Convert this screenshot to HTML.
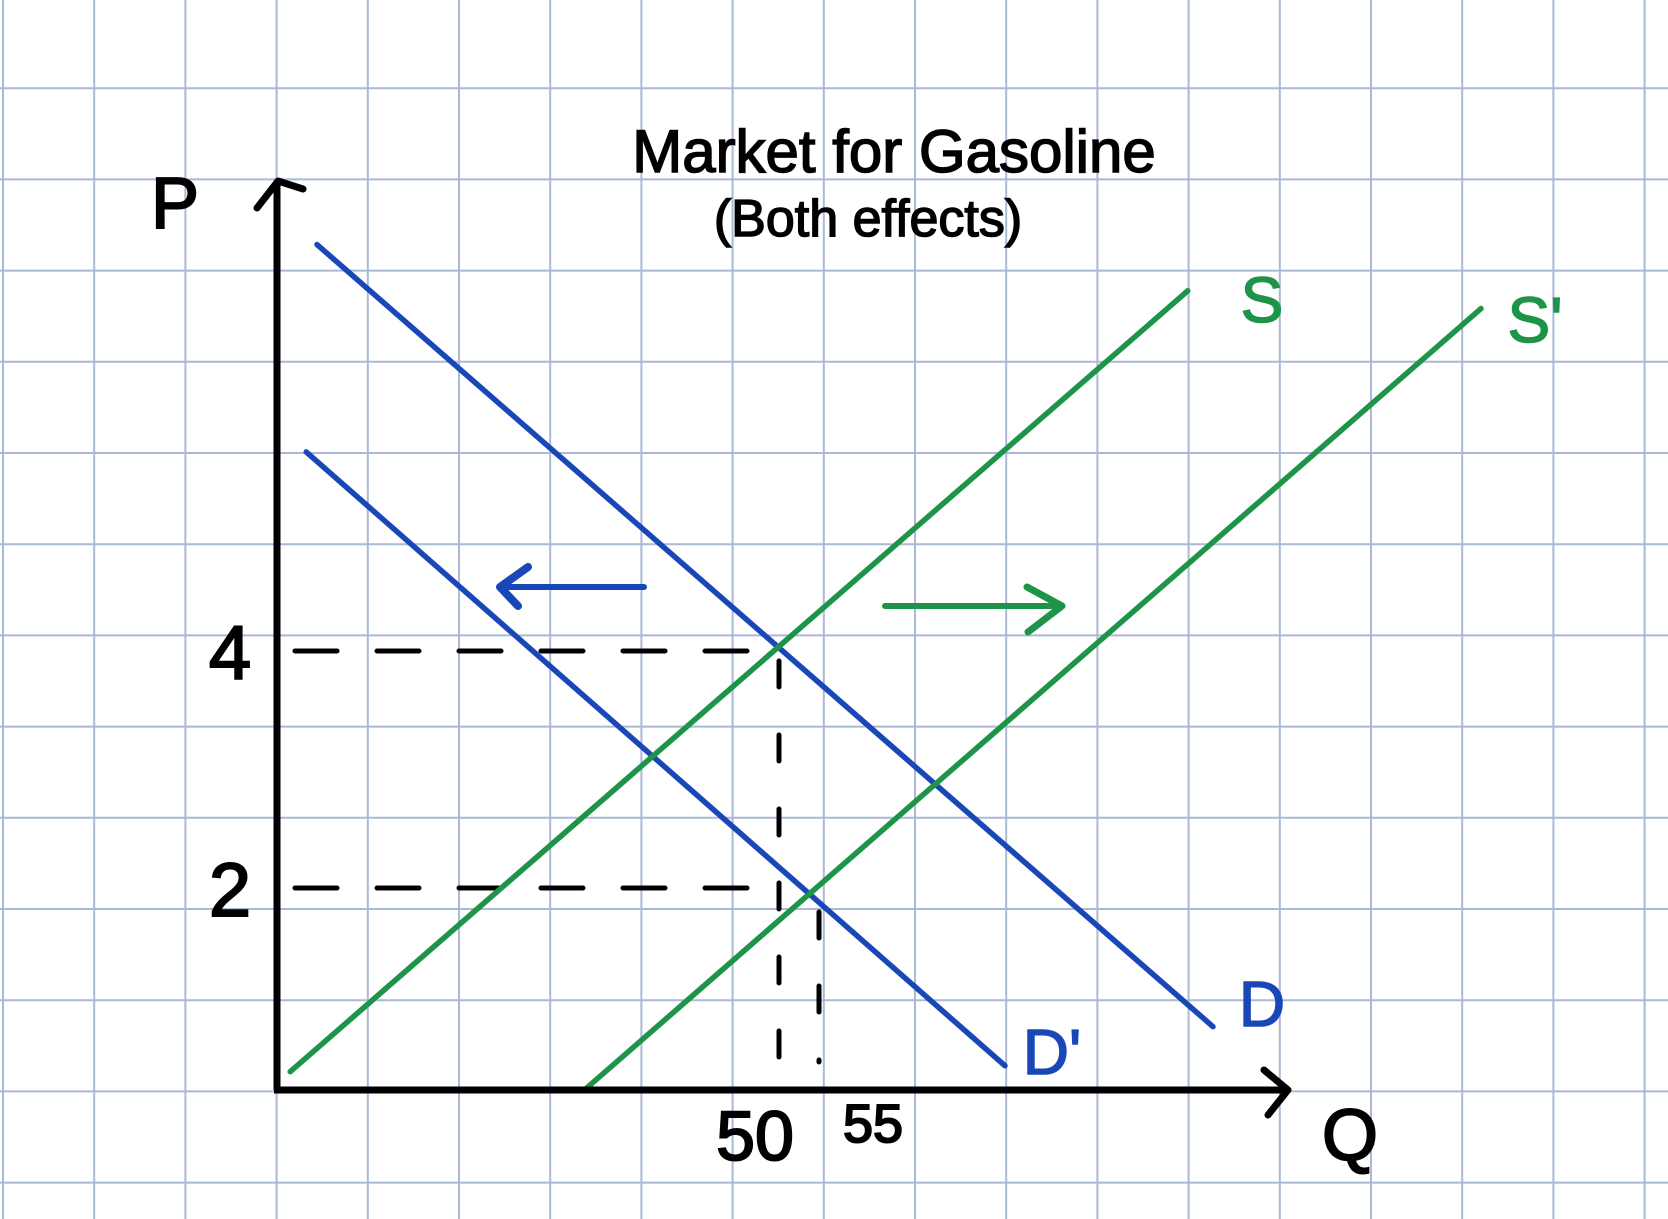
<!DOCTYPE html>
<html><head><meta charset="utf-8"><style>
html,body{margin:0;padding:0;background:#fff;}
svg{display:block;}
text{font-family:"Liberation Sans",sans-serif;}
</style></head><body>
<svg id="chart" width="1668" height="1219" viewBox="0 0 1668 1219" xmlns="http://www.w3.org/2000/svg">
<rect width="1668" height="1219" fill="#fff"/>
<g id="grid"></g>
<g id="guides"></g>
<g id="curves"></g>
<g id="axes">
<line x1="277" y1="1090" x2="277" y2="182" stroke="#000" stroke-width="7"/>
<path d="M257 208 L278 181 L303 189" fill="none" stroke="#000" stroke-width="7" stroke-linecap="round" stroke-linejoin="round"/>
<line x1="274" y1="1090" x2="1285" y2="1090" stroke="#000" stroke-width="7"/>
<path d="M1264 1070 L1288 1090 L1268 1115" fill="none" stroke="#000" stroke-width="7" stroke-linecap="round" stroke-linejoin="round"/>
</g>
<g id="labels">
<text x="894" y="172" font-size="60" text-anchor="middle" stroke="#000" stroke-width="1.5">Market for Gasoline</text>
<text x="868" y="236" font-size="52" text-anchor="middle" stroke="#000" stroke-width="1.5">(Both effects)</text>
<text x="175" y="228" font-size="72" text-anchor="middle" stroke="#000" stroke-width="2">P</text>
<text x="1350" y="1160" font-size="72" text-anchor="middle" stroke="#000" stroke-width="2">Q</text>
<text x="1262" y="322" font-size="64" fill="#1e9448" stroke="#1e9448" stroke-width="1.5" text-anchor="middle">S</text>
<text x="1535" y="342" font-size="64" fill="#1e9448" stroke="#1e9448" stroke-width="1.5" text-anchor="middle">S'</text>
<text x="1262" y="1026" font-size="64" fill="#1a47b8" stroke="#1a47b8" stroke-width="1.5" text-anchor="middle">D</text>
<text x="1052" y="1074" font-size="64" fill="#1a47b8" stroke="#1a47b8" stroke-width="1.5" text-anchor="middle">D'</text>
</g>
<g id="ticks"></g>
<g id="arrows">
<line x1="644" y1="587" x2="502" y2="587" stroke="#1a47b8" stroke-width="6" stroke-linecap="round"/>
<path d="M528 567 L500 587 L518 606" fill="none" stroke="#1a47b8" stroke-width="8" stroke-linecap="round" stroke-linejoin="round"/>
<line x1="885" y1="606" x2="1060" y2="606" stroke="#1e9448" stroke-width="6" stroke-linecap="round"/>
<path d="M1027 587 L1062 606 L1028 632" fill="none" stroke="#1e9448" stroke-width="7" stroke-linecap="round" stroke-linejoin="round"/>
</g>
</svg>
<script>
// Data
var curveNames = ['D', 'D-prime', 'S', 'S-prime'];
var curveQ1 = [-7.75, -9.1, -11.1, 25.75];
var curveP1 = [7.43, 5.68, 0.45, 0.30];
var curveQ2 = [104.25, 78.25, 101.1, 137.75];
var curveP2 = [0.83, 0.50, 7.04, 6.89];
var curveColors = ['#1a47b8', '#1a47b8', '#1e9448', '#1e9448'];
var priceTicks = [4, 2];
var priceTickLabels = ['4', '2'];
var qtyTicks = [50, 55];
var qtyTickLabels = ['50', '55'];

var NS = 'http://www.w3.org/2000/svg';
function xScale(q) { return 779 + (q - 50) * 8; }
function yScale(p) { return 1125 - p * 118.5; }
function mk(tag, attrs, parent) {
  var e = document.createElementNS(NS, tag);
  for (var k in attrs) e.setAttribute(k, attrs[k]);
  parent.appendChild(e);
  return e;
}
var grid = document.getElementById('grid');
for (var gx = 3; gx < 1668; gx += 91.2) {
  var l = mk('line', {x1: gx, y1: 0, x2: gx, y2: 1219, stroke: '#aab9d6', 'stroke-width': 2}, grid);
  
  
}
for (var gy = -3; gy < 1219; gy += 91.2) {
  var l2 = mk('line', {x1: 0, y1: gy, x2: 1668, y2: gy, stroke: '#aab9d6', 'stroke-width': 2}, grid);
  
  
}
var curves = document.getElementById('curves');
for (var i = 0; i < curveNames.length; i++) {
  var c = mk('line', {x1: xScale(curveQ1[i]), y1: yScale(curveP1[i]), x2: xScale(curveQ2[i]), y2: yScale(curveP2[i]), stroke: curveColors[i], 'stroke-width': 5.5, 'stroke-linecap': 'round'}, curves);
  
  
}
var guides = document.getElementById('guides');
for (var j = 0; j < priceTicks.length; j++) {
  var y = yScale(priceTicks[j]);
  var h = mk('line', {x1: 295, y1: y, x2: xScale(qtyTicks[0]) - 4, y2: y, stroke: '#000', 'stroke-width': 5, 'stroke-dasharray': '42 40', 'stroke-linecap': 'round'}, guides);
  
  
}
var vtops = [yScale(priceTicks[0]) + 10, yScale(priceTicks[1]) + 24];
for (var k = 0; k < qtyTicks.length; k++) {
  var x = xScale(qtyTicks[k]);
  var v = mk('line', {x1: x, y1: vtops[k], x2: x, y2: 1062, stroke: '#000', 'stroke-width': 5, 'stroke-dasharray': '26 48', 'stroke-linecap': 'round'}, guides);
  
  
}
var ticks = document.getElementById('ticks');
for (var a = 0; a < priceTicks.length; a++) {
  var t = mk('text', {x: 230, y: yScale(priceTicks[a]) + 28, 'font-size': 76, 'text-anchor': 'middle', stroke: '#000', 'stroke-width': 2}, ticks);
  t.textContent = priceTickLabels[a];
  
  
}
var qoff = [-24, 54];
var qy = [1160, 1142];
var qsize = [70, 54];
for (var b = 0; b < qtyTicks.length; b++) {
  var t2 = mk('text', {x: xScale(qtyTicks[b]) + qoff[b], y: qy[b], 'font-size': qsize[b], 'text-anchor': 'middle', stroke: '#000', 'stroke-width': 2}, ticks);
  t2.textContent = qtyTickLabels[b];
  
  
}
</script>
</body></html>
